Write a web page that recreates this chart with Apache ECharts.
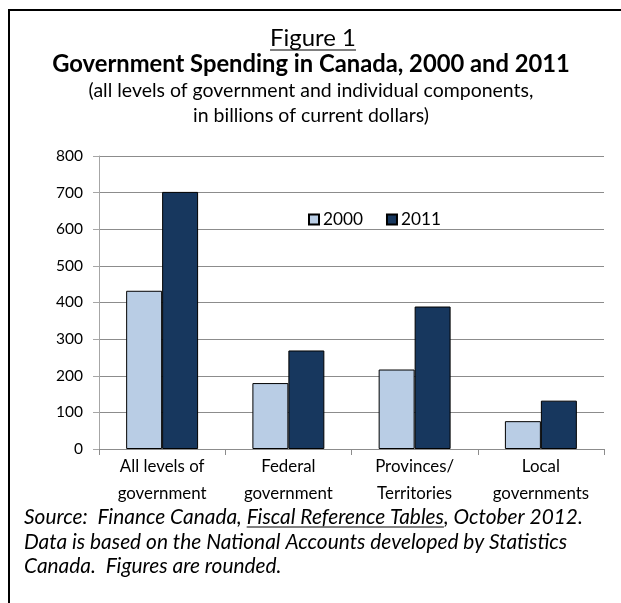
<!DOCTYPE html>
<html>
<head>
<meta charset="utf-8">
<script src="https://cdn.jsdelivr.net/npm/echarts@6/dist/echarts.min.js"></script>
<style>
html,body{margin:0;padding:0;background:#fff;}
#chart{width:621px;height:603px;}
</style>
</head>
<body>
<div id="chart"></div>
<script>
var categories = ["All levels of\ngovernment", "Federal\ngovernment", "Provinces/\nTerritories", "Local\ngovernments"];
var seriesNames = ["2000", "2011"];
var values2000 = [432, 180, 217, 76];
var values2011 = [702, 269, 389, 132];
var yTicks = [0, 100, 200, 300, 400, 500, 600, 700, 800];

var FONT = "Lato, 'Open Sans', sans-serif";
var chart = echarts.init(document.getElementById('chart'), null, {renderer: 'canvas'});

var ctx = document.createElement('canvas').getContext('2d');
function measure(text, prefix, size) {
  ctx.font = prefix + size + "px " + FONT;
  return ctx.measureText(text).width;
}
function fit(text, prefix, target) {
  return 100 * target / measure(text, prefix, 100);
}

var figText = "Figure 1";
var titleText = "Government Spending in Canada, 2000 and 2011";
var sub1 = "(all levels of government and individual components,";
var sub2 = "in billions of current dollars)";
var src1a = "Source:  Finance Canada, ";
var src1u = "Fiscal Reference Tables";
var src1b = ", October 2012.";
var src2 = "Data is based on the National Accounts developed by Statistics";
var src3 = "Canada.  Figures are rounded.";

var figSize = fit(figText, "", 86);
var titleSize = fit(titleText, "bold ", 518);
var subSize = fit(sub1, "", 445);
var srcSize = fit(src1a + src1u + src1b, "italic ", 559);
var axisSize = fit("government", "", 89);
var ySize = fit("800", "", 27);
var legSize = fit("2000", "", 40);

var figW = measure(figText, "", figSize);
var preW = measure(src1a, "italic ", srcSize);
var uW = measure(src1u, "italic ", srcSize);
var srcX = 24;
var srcFont = "italic " + srcSize + "px " + FONT;

var option = {
  animation: false,
  backgroundColor: '#ffffff',
  grid: {left: 99, right: 17, top: 156, bottom: 154, containLabel: false},
  legend: {
    data: seriesNames,
    left: 303, top: 206,
    itemWidth: 10, itemHeight: 10, itemGap: 23,
    icon: 'rect',
    textStyle: {fontFamily: FONT, fontSize: legSize, color: '#000', padding: [0,0,0,-1]}
  },
  xAxis: {
    type: 'category',
    data: categories,
    axisLine: {show: true, lineStyle: {color: '#8c8c8c', width: 1}},
    axisTick: {show: true, length: 6, lineStyle: {color: '#8c8c8c'}},
    axisLabel: {fontFamily: FONT, fontSize: axisSize, color: '#000', lineHeight: 27, margin: 4, interval: 0}
  },
  yAxis: {
    type: 'value',
    min: yTicks[0], max: yTicks[yTicks.length - 1], interval: 100,
    axisLine: {show: true, lineStyle: {color: '#a6a6a6', width: 1}},
    axisTick: {show: true, length: 6, lineStyle: {color: '#a6a6a6'}},
    axisLabel: {fontFamily: FONT, fontSize: ySize, color: '#000', margin: 16},
    splitLine: {show: true, lineStyle: {color: '#8c8c8c', width: 1}}
  },
  series: [
    {
      name: seriesNames[0], type: 'bar', data: values2000,
      barGap: '0%', barCategoryGap: '43%',
      itemStyle: {color: '#b9cde5', borderColor: '#000', borderWidth: 1}
    },
    {
      name: seriesNames[1], type: 'bar', data: values2011,
      barGap: '0%', barCategoryGap: '43%',
      itemStyle: {color: '#17375e', borderColor: '#000', borderWidth: 1}
    }
  ],
  graphic: [
    {type: 'line', shape: {x1: 8, y1: 10, x2: 621, y2: 10}, style: {stroke: '#000', lineWidth: 2}},
    {type: 'line', shape: {x1: 9, y1: 9, x2: 9, y2: 603}, style: {stroke: '#000', lineWidth: 2}},
    {type: 'text', x: 313, y: 38, style: {text: figText, font: figSize + "px " + FONT, fill: '#000', align: 'center', verticalAlign: 'middle'}},
    {type: 'line', shape: {x1: 313 - figW / 2, y1: 50, x2: 313 + figW / 2, y2: 50}, style: {stroke: '#000', lineWidth: 1.2}},
    {type: 'text', x: 311, y: 64, style: {text: titleText, font: "bold " + titleSize + "px " + FONT, fill: '#000', align: 'center', verticalAlign: 'middle'}},
    {type: 'text', x: 311, y: 91, style: {text: sub1, font: subSize + "px " + FONT, fill: '#000', align: 'center', verticalAlign: 'middle'}},
    {type: 'text', x: 311, y: 116, style: {text: sub2, font: subSize + "px " + FONT, fill: '#000', align: 'center', verticalAlign: 'middle'}},
    {type: 'text', x: srcX, y: 517, style: {text: src1a + src1u + src1b, font: srcFont, fill: '#000', align: 'left', verticalAlign: 'middle'}},
    {type: 'line', shape: {x1: srcX + preW, y1: 527, x2: srcX + preW + uW, y2: 527}, style: {stroke: '#000', lineWidth: 1}},
    {type: 'text', x: srcX, y: 542, style: {text: src2, font: srcFont, fill: '#000', align: 'left', verticalAlign: 'middle'}},
    {type: 'text', x: srcX, y: 566, style: {text: src3, font: srcFont, fill: '#000', align: 'left', verticalAlign: 'middle'}}
  ]
};
chart.setOption(option);
</script>
</body>
</html>
